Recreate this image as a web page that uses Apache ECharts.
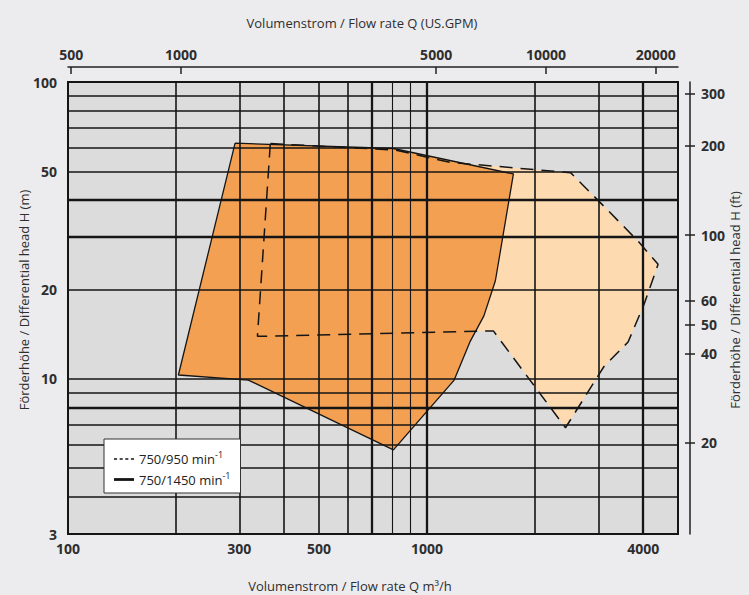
<!DOCTYPE html>
<html>
<head>
<meta charset="utf-8">
<script src="https://cdn.jsdelivr.net/npm/echarts@6/dist/echarts.min.js"></script>
<style>
  html, body { margin: 0; padding: 0; background: #ECECEE; }
  #chart { width: 749px; height: 595px; }
</style>
</head>
<body>
<div id="chart"></div>
<script>
// ---------------- data ----------------
// axis labels
const qTickLabels   = [100, 300, 500, 1000, 4000];          // Q  m³/h  (bottom)
const hTickLabels   = [3, 10, 20, 50, 100];                  // H  m     (left)
const gpmTickLabels = [500, 1000, 5000, 10000, 20000];       // Q  US.GPM (top)
const ftTickLabels  = [20, 40, 50, 60, 100, 200, 300];       // H  ft    (right)

// chart grid lines
const qGridLines = [200, 300, 400, 500, 600, 700, 800, 900, 1000, 2000, 3000, 4000];
const hGridLines = [90, 80, 70, 60, 50, 40, 30, 20, 10, 9, 8, 7, 6, 5, 4];

// axis ranges
const qRange   = [100, 5000];
const hRange   = [3, 100];
const gpmRange = [490, 23000];
const FT_PER_M = 1 / 0.3048;

// operating ranges (polygon vertices)
const rangeNames = ['750/950 min-1', '750/1450 min-1'];
const range950Q  = [366, 817, 1160, 2510, 2990, 3870, 4400, 4020, 3630, 3110, 2430, 1530, 337];
const range950H  = [62, 59, 53.6, 49.5, 40, 29.1, 24.3, 17.8, 13.3, 11.0, 6.84, 14.5, 13.9];
const range1450Q = [292, 806, 1740, 1550, 1440, 1320, 1190, 806, 318, 203];
const range1450H = [62.2, 59.7, 49, 21.4, 16.3, 13.4, 9.9, 5.76, 9.9, 10.3];

// ---------------- styling ----------------
const FONT = '"Open Sans", "Noto Sans", sans-serif';
const TXT = '#2e2e2e';
const INK = '#151515';
const heavyQ = [700, 1000, 4000];
const lightQ = [800, 900];
const heavyH = [40, 30, 8];
const DASH_ICON  = 'path://M0 0h3v1.3h-3z M5.5 0h3v1.3h-3z M11 0h3v1.3h-3z M16.5 0h3v1.3h-3z';
const SOLID_ICON = 'path://M0 0h20v2.8h-20z';

function closedRing(qs, hs) {
  const pts = qs.map((q, i) => [q, hs[i]]);
  pts.push(pts[0]);
  return pts;
}
function polygonRenderer(qs, hs, fill) {
  return function (params, api) {
    if (params.dataIndex !== 0) return null;
    const points = qs.map((q, i) => api.coord([q, hs[i]]));
    return { type: 'polygon', shape: { points: points }, style: { fill: fill, stroke: null } };
  };
}
const intLabel = v => String(Math.round(v));
const tickLabelStyle = { fontFamily: FONT, fontWeight: 'bold', fontSize: 14, color: TXT, formatter: intLabel };
const nameStyle = { fontFamily: FONT, fontSize: 13, color: TXT };

const gridMarks = []
  .concat(qGridLines.map(v => ({
    xAxis: v,
    lineStyle: { color: INK, type: 'solid', width: heavyQ.includes(v) ? 2.3 : (lightQ.includes(v) ? 1.1 : 1.6) }
  })))
  .concat(hGridLines.map(v => ({
    yAxis: v,
    lineStyle: { color: INK, type: 'solid', width: heavyH.includes(v) ? 2.3 : 1.5 }
  })));

const chart = echarts.init(document.getElementById('chart'), null, { renderer: 'svg' });
chart.setOption({
  backgroundColor: '#ECECEE',
  animation: false,
  textStyle: { fontFamily: FONT },
  grid: {
    left: 68, right: 71, top: 82, bottom: 61,
    containLabel: false, outerBoundsMode: 'none',
    show: true, backgroundColor: '#DCDCDC', borderColor: INK, borderWidth: 2
  },
  legend: {
    left: 104, top: 439, orient: 'vertical',
    data: [
      { name: rangeNames[0], icon: DASH_ICON, itemStyle: { color: INK, borderWidth: 0 } },
      { name: rangeNames[1], icon: SOLID_ICON, itemStyle: { color: INK, borderWidth: 0 } }
    ],
    symbolKeepAspect: true,
    itemWidth: 20, itemHeight: 12, itemGap: 5,
    padding: [11, 10, 7, 10],
    backgroundColor: '#ffffff', borderColor: '#333', borderWidth: 1,
    selectedMode: false,
    formatter: n => '{t|' + n.replace(/-1$/, '') + '}{s|-1}',
    textStyle: {
      fontFamily: FONT, color: '#222',
      rich: {
        t: { fontFamily: FONT, fontSize: 13, color: '#222', lineHeight: 18 },
        s: { fontFamily: FONT, fontSize: 9, color: '#222', verticalAlign: 'top', lineHeight: 11 }
      }
    }
  },
  xAxis: [
    {
      type: 'log', min: qRange[0], max: qRange[1], position: 'bottom',
      name: 'Volumenstrom / Flow rate Q m³/h', nameLocation: 'middle', nameGap: 45, nameMoveOverlap: false,
      nameTextStyle: Object.assign({ padding: [0, 46, 0, 0] }, nameStyle),
      axisLine: { show: false }, axisTick: { show: false }, splitLine: { show: false },
      axisLabel: Object.assign({ customValues: qTickLabels, margin: 7 }, tickLabelStyle)
    },
    {
      type: 'log', min: gpmRange[0], max: gpmRange[1], position: 'top', offset: 15,
      name: 'Volumenstrom / Flow rate Q (US.GPM)', nameLocation: 'middle', nameGap: 38, nameMoveOverlap: false,
      nameTextStyle: Object.assign({ padding: [0, 22, 0, 0] }, nameStyle),
      axisLine: { show: true, lineStyle: { color: '#222', width: 1.5 } },
      axisTick: { show: true, inside: true, length: 7, customValues: gpmTickLabels, lineStyle: { color: '#222', width: 1.5 } },
      splitLine: { show: false },
      axisLabel: Object.assign({ customValues: gpmTickLabels, margin: 6 }, tickLabelStyle)
    }
  ],
  yAxis: [
    {
      type: 'log', min: hRange[0], max: hRange[1], position: 'left',
      name: 'Förderhöhe / Differential head H (m)', nameLocation: 'middle', nameGap: 38, nameRotate: 90, nameMoveOverlap: false,
      nameTextStyle: Object.assign({ padding: [0, 0, 0, 16] }, nameStyle),
      axisLine: { show: false }, axisTick: { show: false }, splitLine: { show: false },
      axisLabel: Object.assign({ customValues: hTickLabels, margin: 11 }, tickLabelStyle)
    },
    {
      type: 'log', min: hRange[0] * FT_PER_M, max: hRange[1] * FT_PER_M, position: 'right', offset: 12,
      name: 'Förderhöhe / Differential head H (ft)', nameLocation: 'middle', nameGap: 38, nameRotate: 90, nameMoveOverlap: false,
      nameTextStyle: Object.assign({ padding: [0, 0, 0, 16] }, nameStyle),
      axisLine: { show: true, lineStyle: { color: '#222', width: 1.5 } },
      axisTick: { show: true, length: 5, customValues: ftTickLabels, lineStyle: { color: '#222', width: 1.5 } },
      splitLine: { show: false },
      axisLabel: Object.assign({ customValues: ftTickLabels, margin: 11 }, tickLabelStyle)
    },
    {
      type: 'log', min: hRange[0] * FT_PER_M, max: hRange[1] * FT_PER_M, position: 'right', offset: 12,
      axisLine: { show: false },
      axisTick: { show: true, inside: true, length: 5, customValues: ftTickLabels, lineStyle: { color: '#222', width: 1.5 } },
      splitLine: { show: false },
      axisLabel: { show: false }
    }
  ],
  series: [
    {
      type: 'custom', name: 'area950', xAxisIndex: 0, yAxisIndex: 0, z: 1, silent: true,
      data: closedRing(range950Q, range950H),
      renderItem: polygonRenderer(range950Q, range950H, '#FDDAB0')
    },
    {
      type: 'custom', name: 'area1450', xAxisIndex: 0, yAxisIndex: 0, z: 2, silent: true,
      data: closedRing(range1450Q, range1450H),
      renderItem: polygonRenderer(range1450Q, range1450H, '#F4A052')
    },
    {
      type: 'line', name: rangeNames[0], xAxisIndex: 0, yAxisIndex: 0, z: 10, silent: true,
      data: closedRing(range950Q, range950H),
      symbol: 'none', showSymbol: false,
      itemStyle: { color: INK },
      lineStyle: { color: INK, width: 1.5, type: [13, 8] }
    },
    {
      type: 'line', name: rangeNames[1], xAxisIndex: 0, yAxisIndex: 0, z: 10, silent: true,
      data: closedRing(range1450Q, range1450H),
      symbol: 'none', showSymbol: false,
      itemStyle: { color: INK },
      lineStyle: { color: INK, width: 1.3, type: 'solid' },
      markLine: {
        z: 3, silent: true, symbol: ['none', 'none'], animation: false,
        label: { show: false },
        emphasis: { disabled: true },
        data: gridMarks
      }
    }
  ]
});
</script>
</body>
</html>
